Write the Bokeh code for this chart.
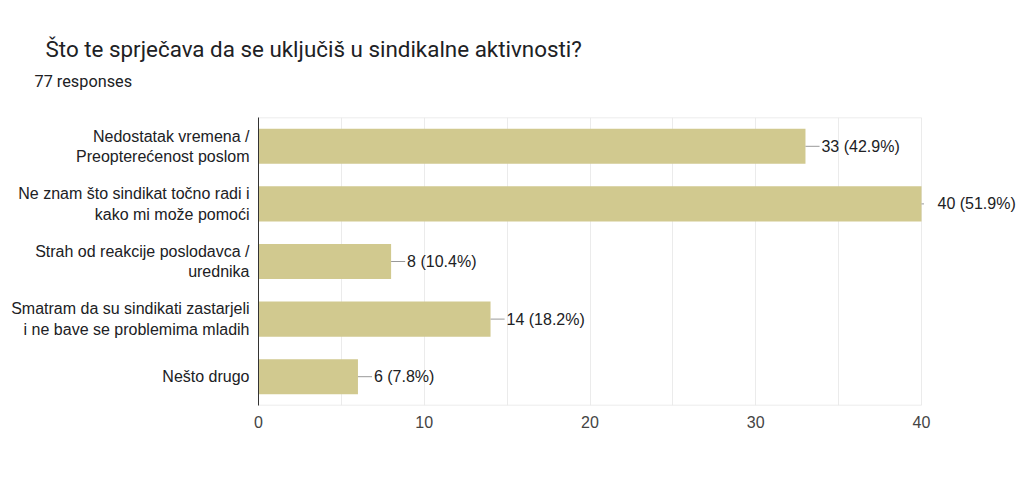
from bokeh.plotting import figure
from bokeh.models import ColumnDataSource, Range1d, FixedTicker, Title
from bokeh.core.properties import value
from bokeh.embed import file_html
from bokeh.resources import INLINE

title_text = "Što te sprječava da se uključiš u sindikalne aktivnosti?"
subtitle_text = "77 responses"
categories = [
    "Nedostatak vremena /\nPreopterećenost poslom",
    "Ne znam što sindikat točno radi i\nkako mi može pomoći",
    "Strah od reakcije poslodavca /\nurednika",
    "Smatram da su sindikati zastarjeli\ni ne bave se problemima mladih",
    "Nešto drugo",
]
counts = [33, 40, 8, 14, 6]
value_labels = ["33 (42.9%)", "40 (51.9%)", "8 (10.4%)", "14 (18.2%)", "6 (7.8%)"]
x_ticks = [0, 10, 20, 30, 40]
grid_ticks = [0, 5, 10, 15, 20, 25, 30, 35, 40]

BAR = "#d1c98f"
FONT = "Liberation Sans"

W, H = 1016, 471
LEFT, PLOT_W = 258, 663          # axis area: 0..40 spans 663 px
x_max = grid_ticks[-1]
x_end = x_max * (W - LEFT) / PLOT_W   # extra room on the right for value labels

n = len(categories)
ypos = [n - i - 0.5 for i in range(n)]

src = ColumnDataSource(dict(
    y=ypos, val=counts, lab=value_labels,
    # connector from bar end to its label (cut at the axis end, as in the original)
    x1=[min(v + 0.85, x_max + 0.15) for v in counts],
))

p = figure(width=W, height=H, output_backend="svg", toolbar_location=None,
           y_range=Range1d(0, n), x_range=Range1d(0, x_end),
           min_border_left=LEFT, min_border_right=0, min_border_top=117, min_border_bottom=66)

p.title = Title(text=title_text, align="left", offset=-213, text_font="Roboto",
                text_font_size="22.4px", text_font_style="normal", text_color="#202124",
                standoff=0)
# trailing line break keeps a blank band between the subtitle and the chart
p.add_layout(Title(text=subtitle_text + "\n", align="left", offset=-224, text_font="Roboto",
                   text_font_size="16.3px", text_font_style="normal", text_color="#202124",
                   standoff=16), "above")

# light frame lines at top and bottom of the value axis area
p.segment(x0=[0, 0], y0=[0, n], x1=[x_max, x_max], y1=[0, n], line_color="#e6e6e6", line_width=1.5)

p.hbar(y="y", right="val", left=0, height=0.61, source=src, color=BAR, line_color=None)
p.segment(x0="val", y0="y", x1="x1", y1="y", source=src, line_color="#999999", line_width=1)
p.text(x="val", y="y", text="lab", source=src, x_offset=16, text_baseline="middle",
       text_font=value(FONT), text_font_size=value("16px"), text_color="#202124")

p.xaxis.ticker = FixedTicker(ticks=x_ticks)
p.xgrid.ticker = FixedTicker(ticks=grid_ticks)
p.xgrid.grid_line_color = "#ebebeb"
p.ygrid.grid_line_color = None
p.outline_line_color = None

p.xaxis.axis_line_color = None
p.xaxis.major_tick_line_color = None
p.xaxis.minor_tick_line_color = None
p.xaxis.major_label_text_font = FONT
p.xaxis.major_label_text_font_size = "16px"
p.xaxis.major_label_text_color = "#444444"
p.xaxis.major_label_standoff = 4

p.yaxis.ticker = FixedTicker(ticks=ypos)
p.yaxis.major_label_overrides = {yy: c for yy, c in zip(ypos, categories)}
p.yaxis.axis_line_color = "#333333"
p.yaxis.axis_line_width = 1
p.yaxis.major_tick_line_color = None
p.yaxis.minor_tick_line_color = None
p.yaxis.major_label_text_font = FONT
p.yaxis.major_label_text_font_size = "16px"
p.yaxis.major_label_text_color = "#202124"
p.yaxis.major_label_standoff = 3

open("out.html", "w").write(file_html(p, INLINE))
